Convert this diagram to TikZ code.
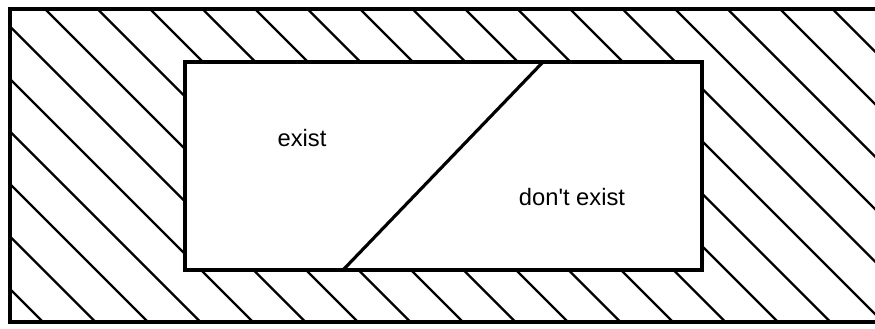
\documentclass[tikz,border=0pt]{standalone}
\usepackage{fontspec}
\setmainfont{Liberation Sans}
\usetikzlibrary{positioning}
\tikzset{
  hatchline/.style={black, line width=1.3pt},
  frameline/.style={black, line width=2.1pt},
  splitline/.style={black, line width=1.8pt},
  zonelabel/.style={font=\fontsize{13.5}{16}\selectfont, inner sep=0pt}
}

\begin{document}
\begin{tikzpicture}[x=0.02cm, y=-0.02cm]
\clip (0,0) rectangle (875,328);
\fill[white] (0,0) rectangle (875,328);
\begin{scope}
  \clip (10,9) rectangle (890,322);
  \foreach \k in {-7,...,17}
    \draw[hatchline] ({36+52.5*\k},0) -- ({36+52.5*\k+340},340);
\end{scope}
\draw[frameline] (890,9) -- (10,9) -- (10,322) -- (890,322);
\fill[white] (185,62) rectangle (702,270);
\draw[frameline, line width=1.9pt] (185,62) rectangle (702,270);
\coordinate (splittop) at (543,62);
\coordinate (splitbot) at (343,270);
\draw[splitline] (splittop) -- (splitbot);
\node[zonelabel] (exist) at (302,138) {exist};
\node[zonelabel] (dontexist) at (572,197) {don\textquotesingle t exist};
\end{tikzpicture}
\end{document}
